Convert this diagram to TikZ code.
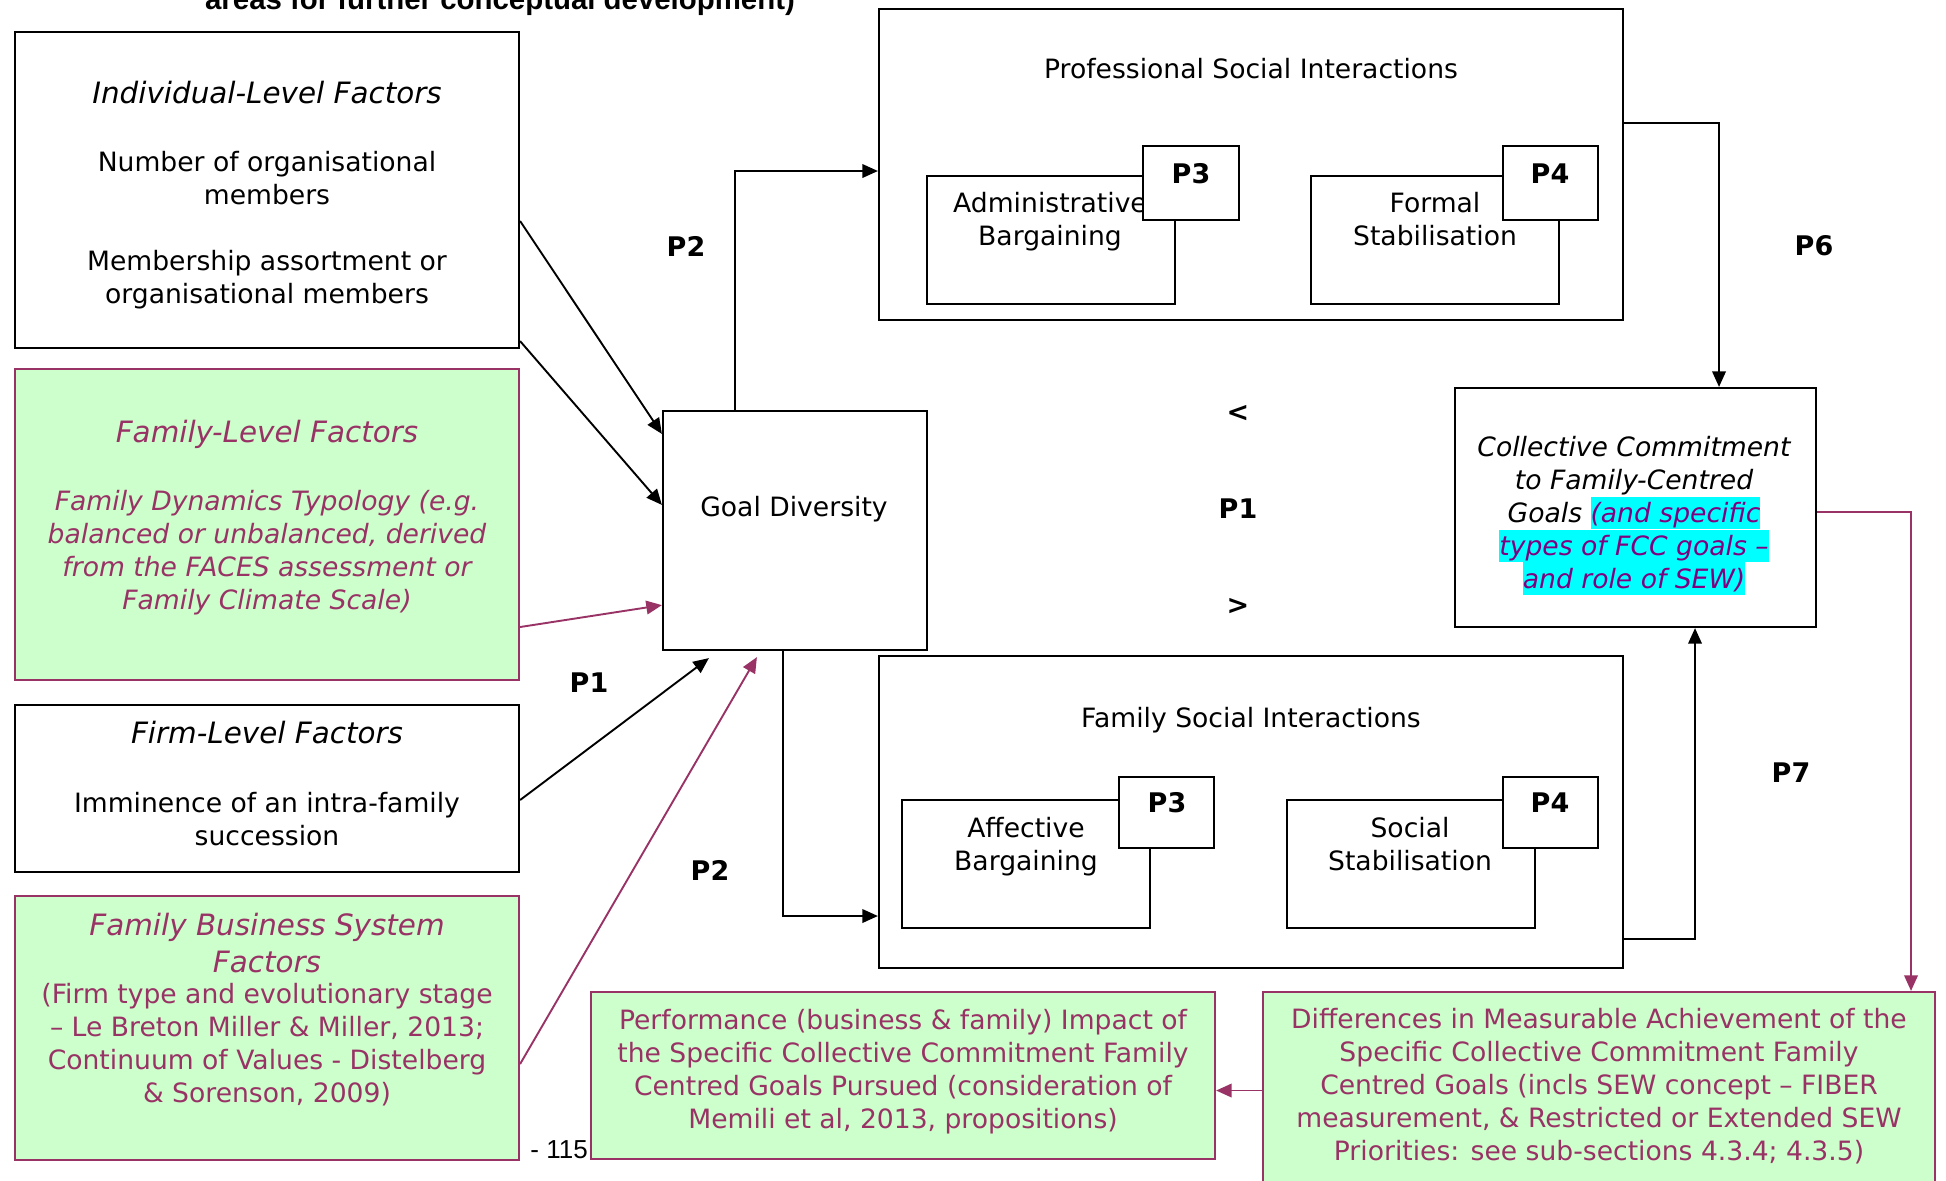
\documentclass[tikz,border=0pt]{standalone}
\usepackage{fontspec}
\setmainfont{DejaVu Sans}
\newfontfamily\arialf{Liberation Sans}
\usetikzlibrary{arrows.meta,fit,calc}
\definecolor{fbgreen}{HTML}{CCFFCC}
\definecolor{fbmag}{HTML}{993366}
\definecolor{hlcyan}{HTML}{00FFFF}
\definecolor{sewpurple}{HTML}{800080}
\newcommand{\bodyfs}{\fontsize{13.3pt}{16.4pt}\selectfont}
\newcommand{\titlefs}{\fontsize{14.7pt}{18.3pt}\selectfont}
\newcommand{\hlsew}[1]{{\setlength{\fboxsep}{0pt}\colorbox{hlcyan}{\rule[-3.5pt]{0pt}{16.3pt}\color{sewpurple}#1}}}
\tikzset{
  box/.style={draw=black, line width=1.1pt, fill=white, inner sep=0pt},
  gbox/.style={draw=fbmag, line width=1.1pt, fill=fbgreen, inner sep=0pt},
  txt/.style={align=center, inner sep=0pt, font=\bodyfs, anchor=base},
  ttl/.style={align=center, inner sep=0pt, font=\titlefs\itshape, anchor=base},
  plab/.style={font=\fontsize{13.5pt}{16pt}\selectfont\bfseries, inner sep=0pt},
  arr/.style={draw=black, line width=0.95pt, -{Triangle[length=7.8pt,width=6.8pt]}},
  marr/.style={draw=fbmag, line width=0.95pt, -{Triangle[length=7.8pt,width=6.8pt]}}
}
\begin{document}
\begin{tikzpicture}[x=0.5pt, y=-0.5pt]
\useasboundingbox (0,0) rectangle (1946,1180);
\fill[white] (0,0) rectangle (1946,1180);

% top caption (cut off)
\node[font=\arialf\fontsize{14.7pt}{18pt}\selectfont\bfseries, anchor=base, inner sep=0pt] (cap) at (500,9) {areas for further conceptual development)};

% left column boxes
\node[box, fit={(15,32) (519,348)}] (ind) {};
\node[gbox, fit={(15,369) (519,680)}] (fam) {};
\node[box, fit={(15,705) (519,872)}] (firm) {};
\node[gbox, fit={(15,896) (519,1160)}] (fbs) {};

% (multi-line nodes: base anchor = baseline of the last line)
\node[ttl] (indt) at (267,103) {Individual-Level Factors};
\node[txt] (indb) at (267,303) {Number of organisational\\members\\[16.4pt]Membership assortment or\\organisational members};

\node[ttl, text=fbmag] (famt) at (267,442) {Family-Level Factors};
\node[txt, text=fbmag, font=\bodyfs\itshape] (famb) at (267,609) {Family Dynamics Typology (e.g.\\balanced or unbalanced, derived\\from the FACES assessment or\\Family Climate Scale)};

\node[ttl] (firmt) at (267,743) {Firm-Level Factors};
\node[txt] (firmb) at (267,845) {Imminence of an intra-family\\succession};

\node[ttl, text=fbmag] (fbst) at (267,972) {Family Business System\\Factors};
\node[txt, text=fbmag] (fbsb) at (267,1102) {(Firm type and evolutionary stage\\– Le Breton Miller \& Miller, 2013;\\Continuum of Values - Distelberg\\\& Sorenson, 2009)};

% goal diversity
\node[box, fit={(663,411) (927,650)}] (goal) {};
\node[txt] (goalt) at (794,516) {Goal Diversity};

% professional social interactions
\node[box, fit={(879,9) (1623,320)}] (prof) {};
\node[txt] (proft) at (1251,78) {Professional Social Interactions};
\node[box, fit={(927,176) (1175,304)}] (admin) {};
\node[box, fit={(1311,176) (1559,304)}] (formal) {};
\node[txt] (admint) at (1050,245) {Administrative\\Bargaining};
\node[txt] (formalt) at (1435,245) {Formal\\Stabilisation};
\node[box, fit={(1143,146) (1239,220)}] (p3a) {};
\node[box, fit={(1503,146) (1598,220)}] (p4a) {};
\node[plab, anchor=base] (p3at) at (1191,183) {P3};
\node[plab, anchor=base] (p4at) at (1550,183) {P4};

% family social interactions
\node[box, fit={(879,656) (1623,968)}] (famsoc) {};
\node[txt] (famsoct) at (1251,727) {Family Social Interactions};
\node[box, fit={(902,800) (1150,928)}] (affect) {};
\node[box, fit={(1287,800) (1535,928)}] (social) {};
\node[txt] (affectt) at (1026,870) {Affective\\Bargaining};
\node[txt] (socialt) at (1410,870) {Social\\Stabilisation};
\node[box, fit={(1119,777) (1214,848)}] (p3b) {};
\node[box, fit={(1503,777) (1598,848)}] (p4b) {};
\node[plab, anchor=base] (p3bt) at (1167,812) {P3};
\node[plab, anchor=base] (p4bt) at (1550,812) {P4};

% collective commitment
\node[box, fit={(1455,388) (1816,627)}] (coll) {};
\node[txt, font=\bodyfs\itshape] (collt) at (1634,588) {Collective Commitment\\to Family-Centred\\Goals \hlsew{(and specific}\\\hlsew{types of FCC goals –}\\\hlsew{and role of SEW)}};

% outcome boxes
\node[gbox, fit={(591,992) (1215,1159)}] (perf) {};
\node[txt, text=fbmag] (perft) at (903,1128) {Performance (business \& family) Impact of\\the Specific Collective Commitment Family\\Centred Goals Pursued (consideration of\\Memili et al, 2013, propositions)};
\node[gbox, fit={(1263,992) (1935,1200)}] (diff) {};
\node[txt, text=fbmag] (difft) at (1599,1160) {Differences in Measurable Achievement of the\\Specific Collective Commitment Family\\Centred Goals (incls SEW concept – FIBER\\measurement, \& Restricted or Extended SEW\\Priorities: see sub-sections 4.3.4; 4.3.5)};

% page number
\node[font=\arialf\fontsize{13pt}{15pt}\selectfont, anchor=base west, inner sep=0pt] (pg) at (530,1158) {- 115};

% proposition labels
\node[plab] (lp2a) at (686,246) {P2};
\node[plab] (lp1a) at (589,683) {P1};
\node[plab] (lp2b) at (710,870) {P2};
\node[plab] (lp6) at (1814,246) {P6};
\node[plab] (lp7) at (1791,773) {P7};
\node[plab] (llt) at (1238,413) {<};
\node[plab] (lp1b) at (1238,509) {P1};
\node[plab] (lgt) at (1238,606) {>};

% connectors
\draw[arr] ([yshift=-15.5pt]ind.east) -- ([yshift=-12pt]goal.north west);
\draw[arr] ([yshift=4pt]ind.south east) -- ([yshift=-47.5pt]goal.north west);
\draw[marr] ([yshift=-51.25pt]fam.east) -- ([yshift=23pt]goal.south west);
\draw[arr] ([yshift=-5.75pt]firm.east) -- ([xshift=23.5pt,yshift=-3.5pt]goal.south west);
\draw[marr] ([yshift=-18pt]fbs.east) -- ([xshift=47.5pt,yshift=-3pt]goal.south west);
\draw[arr] ([xshift=-30pt]goal.north) |- ([yshift=-3.25pt]prof.west);
\draw[arr] ([xshift=-6pt]goal.south) |- ([yshift=-52pt]famsoc.west);
\draw[arr] ([yshift=20.75pt]prof.east) -| ([xshift=41.75pt]coll.north);
\draw[arr] ([yshift=-63.5pt]famsoc.east) -| ([xshift=29.75pt]coll.south);
\draw[marr] ([yshift=-2.25pt]coll.east) -| ([xshift=156pt]diff.north);
\coordinate (dw) at ([yshift=2.75pt]diff.west);
\draw[marr] (dw) -- (dw -| perf.east);
\end{tikzpicture}
\end{document}
